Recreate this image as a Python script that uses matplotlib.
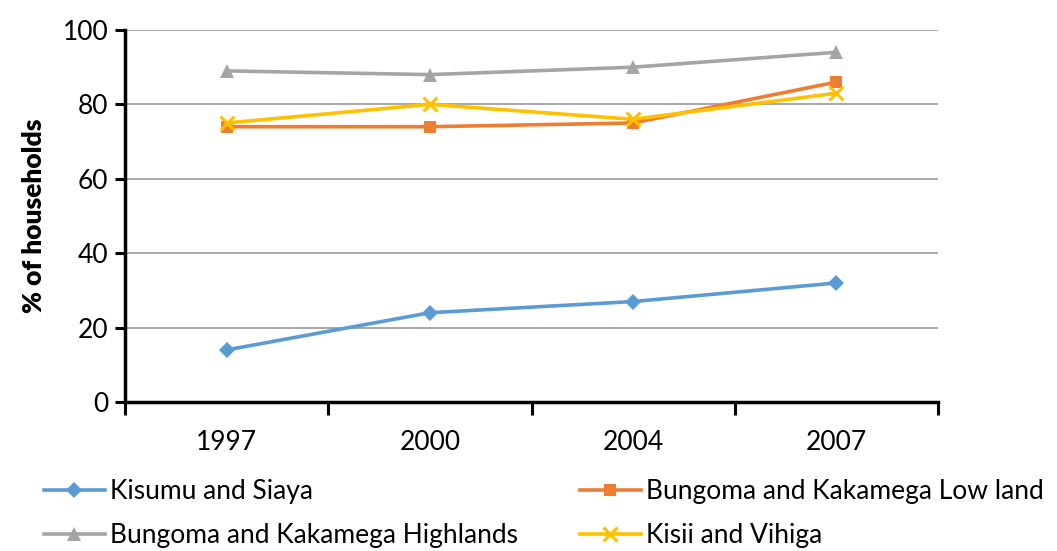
import matplotlib
matplotlib.use("Agg")
import matplotlib.pyplot as plt

years = ["1997", "2000", "2004", "2007"]
kisumu_siaya = [14, 24, 27, 32]
bungoma_lowland = [74, 74, 75, 86]
bungoma_highlands = [89, 88, 90, 94]
kisii_vihiga = [75, 80, 76, 83]

series = [
    ("Kisumu and Siaya", kisumu_siaya, "#5B9BD5", "D", 8),
    ("Bungoma and Kakamega Low land", bungoma_lowland, "#ED7D31", "s", 9),
    ("Bungoma and Kakamega Highlands", bungoma_highlands, "#A5A5A5", "^", 10),
    ("Kisii and Vihiga", kisii_vihiga, "#FFC000", "x", 10),
]

plt.rcParams["font.family"] = ["Lato", "DejaVu Sans"]

fig = plt.figure(figsize=(10.57, 5.51), dpi=100)
ax = fig.add_axes([0.1183, 0.2704, 0.7691, 0.6752])

x = list(range(len(years)))
handles = {}
for label, vals, color, marker, ms in series:
    kw = dict(markeredgewidth=2.2) if marker == "x" else dict(markeredgewidth=0)
    (h,) = ax.plot(x, vals, color=color, lw=2.6, marker=marker, markersize=ms,
                   label=label, **kw)
    handles[label] = h

ax.set_xlim(-0.5, 3.5)
ax.set_ylim(0, 100)
ax.set_yticks(range(0, 101, 20))
ax.yaxis.grid(True, color="#a0a0a0", lw=1.3)
ax.set_axisbelow(True)

ax.set_xticks(x)
ax.set_xticklabels(years)
ax.set_xticks([i - 0.5 for i in range(len(years) + 1)], minor=True)
ax.tick_params(axis="x", which="major", length=0, pad=20, labelsize=19)
ax.tick_params(axis="x", which="minor", length=9, width=2.2, direction="out")
ax.tick_params(axis="y", length=7, width=2.2, direction="out", labelsize=19, pad=5)

for side in ("top", "right"):
    ax.spines[side].set_visible(False)
for side in ("left", "bottom"):
    ax.spines[side].set_linewidth(2.5)
    ax.spines[side].set_color("black")

ax.set_ylabel("% of households", fontsize=19, fontweight="heavy", labelpad=12)

# legend filled row by row: matplotlib fills columns first, so reorder
order = ["Kisumu and Siaya", "Bungoma and Kakamega Highlands",
         "Bungoma and Kakamega Low land", "Kisii and Vihiga"]
fig.legend([handles[k] for k in order], order,
           loc="upper left", bbox_to_anchor=(0.029, 0.155), ncol=2,
           frameon=False, fontsize=19, handlelength=2.3, handletextpad=0.2,
           columnspacing=2.35, labelspacing=0.72, borderpad=0)

fig.savefig("out.png", dpi=100)
